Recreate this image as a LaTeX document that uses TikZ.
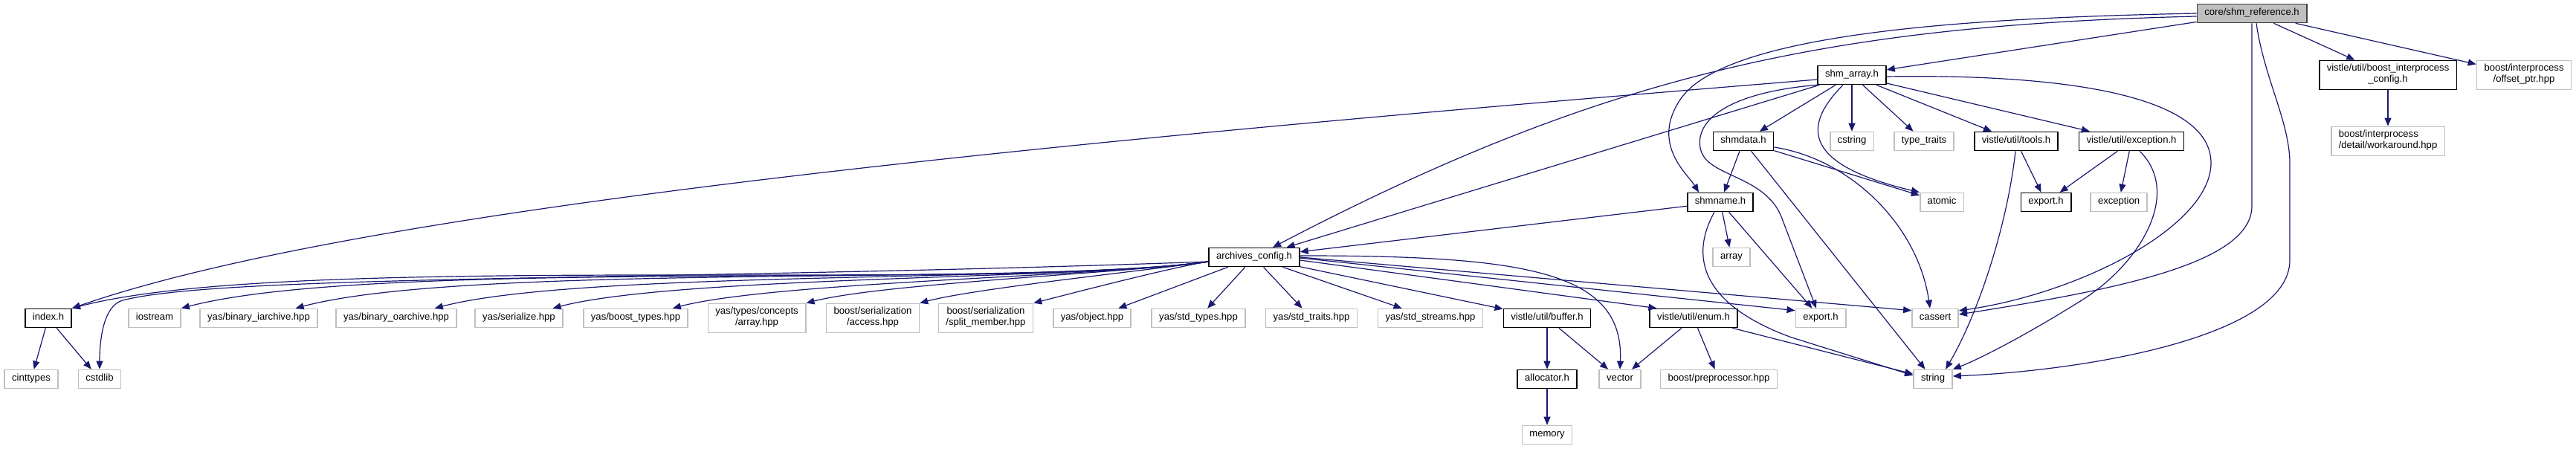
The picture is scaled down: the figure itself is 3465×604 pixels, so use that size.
\documentclass[tikz,border=0pt]{standalone}
\usepackage{fontspec}
\setmainfont{Liberation Sans}
\usetikzlibrary{arrows.meta}
\definecolor{edgeCol}{HTML}{191970}
\definecolor{sysCol}{HTML}{BFBFBF}
\definecolor{rootFill}{HTML}{BFBFBF}
\definecolor{rootEdge}{HTML}{404040}
\newcommand{\hdrfont}{\fontsize{13.1}{15}\selectfont}
\tikzset{
  hdr/.style={draw, line width=1.6pt, fill=white, minimum height=25pt, inner xsep=10pt,
              inner ysep=5pt, font=\hdrfont, align=center, execute at begin node=\strut},
  proj/.style={hdr, draw=black},            % header of the project
  sys/.style={hdr, draw=sysCol},            % system / external header
  root/.style={hdr, draw=rootEdge, fill=rootFill},
  dep/.style={-{Triangle[length=11pt,width=9pt]}, edgeCol, line width=1.2pt}, % #include
}

\begin{document}
\begin{tikzpicture}[x=1pt,y=1pt]
  \useasboundingbox (0,0) rectangle (3465,604);
  \def\yA{586}\def\yB{503}\def\yC{414}\def\yD{332}\def\yE{258}\def\yF{176}\def\yG{94}\def\yH{19}

  \node[root] (core) at (3029,\yA) {core/shm\_reference.h};

  \node[proj] (shmarray) at (2491,\yB) {shm\_array.h};
  \node[proj] (bicfg)    at (3212,\yB) {vistle/util/boost\_interprocess\\\_config.h};
  \node[sys]  (offptr)   at (3395,\yB) {boost/interprocess\\/offset\_ptr.hpp};

  \node[proj] (shmdata)    at (2345,\yC) {shmdata.h};
  \node[sys]  (cstring)    at (2491,\yC) {cstring};
  \node[sys]  (typetraits) at (2588,\yC) {type\_traits};
  \node[proj] (tools)      at (2712,\yC) {vistle/util/tools.h};
  \node[proj] (exch)       at (2867,\yC) {vistle/util/exception.h};
  \node[sys, align=left] (workaround) at (3212,\yC) {boost/interprocess\\/detail/workaround.hpp};

  \node[proj] (shmname)   at (2314,\yD) {shmname.h};
  \node[sys]  (atomic)    at (2612,\yD) {atomic};
  \node[proj] (exporth)   at (2752,\yD) {export.h};
  \node[sys]  (exception) at (2850,\yD) {exception};

  \node[proj] (archcfg) at (1687,\yE) {archives\_config.h};
  \node[sys]  (array)   at (2329,\yE) {array};

  \node[proj] (index)      at (65,\yF)   {index.h};
  \node[sys]  (iostream)   at (208,\yF)  {iostream};
  \node[sys]  (biarch)     at (348,\yF)  {yas/binary\_iarchive.hpp};
  \node[sys]  (boarch)     at (533,\yF)  {yas/binary\_oarchive.hpp};
  \node[sys]  (yasser)     at (698,\yF)  {yas/serialize.hpp};
  \node[sys]  (boosttypes) at (855,\yF)  {yas/boost\_types.hpp};
  \node[sys]  (concarray)  at (1018,\yF) {yas/types/concepts\\/array.hpp};
  \node[sys]  (access)     at (1174,\yF) {boost/serialization\\/access.hpp};
  \node[sys]  (splitmem)   at (1326,\yF) {boost/serialization\\/split\_member.hpp};
  \node[sys]  (yasobject)  at (1469,\yF) {yas/object.hpp};
  \node[sys]  (stdtypes)   at (1612,\yF) {yas/std\_types.hpp};
  \node[sys]  (stdtraits)  at (1764,\yF) {yas/std\_traits.hpp};
  \node[sys]  (stdstreams) at (1924,\yF) {yas/std\_streams.hpp};
  \node[proj] (buffer)     at (2081,\yF) {vistle/util/buffer.h};
  \node[proj] (enumh)      at (2278,\yF) {vistle/util/enum.h};
  \node[sys]  (exportl)    at (2449,\yF) {export.h};
  \node[sys]  (cassert)    at (2603,\yF) {cassert};

  \node[sys]  (cinttypes) at (42,\yG)   {cinttypes};
  \node[sys]  (cstdlib)   at (134,\yG)  {cstdlib};
  \node[proj] (allocator) at (2081,\yG) {allocator.h};
  \node[sys]  (vector)    at (2179,\yG) {vector};
  \node[sys]  (preproc)   at (2312,\yG) {boost/preprocessor.hpp};
  \node[sys]  (string)    at (2600,\yG) {string};

  \node[sys]  (memory) at (2081,\yH) {memory};

  % direct includes
  \foreach \a/\b in {core/shmarray, core/bicfg, core/offptr, bicfg/workaround,
      shmarray/shmdata, shmarray/cstring, shmarray/typetraits, shmarray/tools, shmarray/exch,
      shmarray/archcfg, shmdata/shmname, shmdata/atomic, shmdata/string,
      shmname/archcfg, shmname/array, shmname/exportl, tools/exporth, exch/exporth, exch/exception,
      archcfg/yasobject, archcfg/stdtypes, archcfg/stdtraits, archcfg/stdstreams, archcfg/buffer,
      index/cinttypes, index/cstdlib, buffer/allocator, buffer/vector, allocator/memory,
      enumh/vector, enumh/preproc, enumh/string}
    \draw[dep] (\a) -- (\b);

  % fan to the left of archives_config.h
  \foreach \tgt/\dsh/\ax/\ay/\bx/\by in {index/0/1328/210/387/266, iostream/0/1358/214/505/258,
      biarch/30/1387/219/629/251, boarch/30/1423/224/782/241, yasser/14/1454/228/911/233,
      boosttypes/21/1484/232/1041/225, concarray/0/1520/237/1188/223,
      access/0/1549/241/1311/216, splitmem/0/1578/245/1436/208}
    \draw[dep] ([yshift=-6pt]archcfg.west) .. controls (\ax,\ay) and (\bx,\by)
               .. ([xshift=-\dsh pt]\tgt.north east);
  \draw[dep] ([yshift=-6pt]archcfg.west) .. controls (900,226) and (300,235) .. (165,200)
             .. controls (140,193) and (134,150) .. (cstdlib.north);
  \draw[dep] ([yshift=2pt]archcfg.east) .. controls (2050,260) and (2185,240) .. (vector.north);
  \draw[dep] ([yshift=-4pt]archcfg.east) -- ([xshift=10pt]enumh.north west);
  \draw[dep] ([yshift=-1pt]archcfg.east) -- ([yshift=-3pt]exportl.north west);
  \draw[dep] (archcfg.east) -- ([yshift=-3pt]cassert.north west);

  % long bends
  \draw[dep] (core.west) .. controls (2650,580) and (2320,560) .. (2260,470)
             .. controls (2220,410) and (2270,370) .. ([xshift=-29pt]shmname.north);
  \draw[dep] ([yshift=-4pt]core.west) .. controls (2450,570) and (2150,500) .. ([xshift=25pt]archcfg.north);
  \draw[dep] (core.south) -- (3029,327) .. controls (3029,250) and (2850,215) .. ([yshift=5pt]cassert.east);
  \draw[dep] ([xshift=6pt]core.south) .. controls (3045,500) and (3080,440) .. (3080,384) -- (3080,254)
             .. controls (3080,150) and (2800,105) .. ([yshift=4pt]string.east);
  \draw[dep] ([yshift=-2pt]shmarray.east) .. controls (2800,505) and (2975,470) .. (2974,384)
             .. controls (2973,300) and (2800,210) .. ([yshift=10pt]cassert.east);
  \draw[dep] ([xshift=-12pt]shmarray.south) .. controls (2430,440) and (2415,385) .. (atomic.north west);
  \draw[dep] ([yshift=-6pt]shmarray.west) .. controls (1500,420) and (500,330) .. (index.north east);
  \draw[dep] (shmarray.south west) .. controls (2330,480) and (2280,445) .. (2287,405)
             .. controls (2294,365) and (2375,370) .. (2397,310) -- ([xshift=-6pt]exportl.north);
  \draw[dep] ([yshift=-8pt]shmdata.east) .. controls (2490,390) and (2580,300) .. ([xshift=-7pt]cassert.north);
  \draw[dep] ([xshift=-8pt]shmname.south) .. controls (2268,250) and (2300,190) .. (2410,150)
             -- ([yshift=5pt]string.west);
  \draw[dep] ([xshift=-1pt]tools.south) .. controls (2700,300) and (2660,180) .. ([xshift=17pt]string.north);
  \draw[dep] ([xshift=11pt]exch.south) .. controls (2935,345) and (2880,250) .. (2800,200)
             .. controls (2720,150) and (2660,120) .. (string.north east);
\end{tikzpicture}
\end{document}
